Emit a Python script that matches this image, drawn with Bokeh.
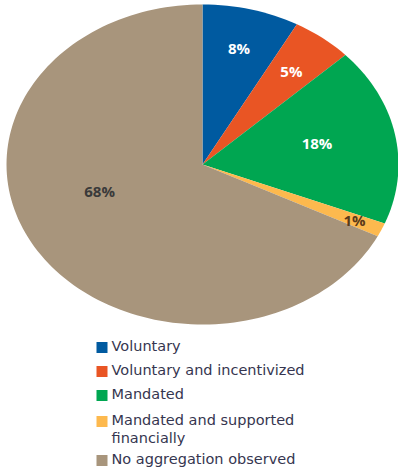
import math
from bokeh.plotting import figure
from bokeh.models import Range1d
from bokeh.core.properties import value
from bokeh.embed import file_html
from bokeh.resources import INLINE

categories = ["Voluntary", "Voluntary and incentivized", "Mandated",
              "Mandated and supported\nfinancially", "No aggregation observed"]
shares = [8, 5, 18, 1.4, 67.6]
pct_labels = ["8%", "5%", "18%", "1%", "68%"]
colors = ["#005aa0", "#e95524", "#00a651", "#fdb94e", "#a8957c"]
label_colors = ["#ffffff", "#ffffff", "#ffffff", "#5a3a1a", "#3a3a3a"]

W, H = 398, 468
CX, CY, RX, RY = 202, 164, 196, 160  # pixel geometry of the pie

p = figure(width=W, height=H, output_backend="svg", toolbar_location=None,
           min_border=0, outline_line_color=None, background_fill_color="white",
           border_fill_color="white")
p.x_range = Range1d(-CX / RX, (W - CX) / RX)
p.y_range = Range1d(-(H - CY) / RY, CY / RY)
p.xaxis.visible = False
p.yaxis.visible = False
p.grid.visible = False

total = sum(shares)
xs, ys = [], []
start = 0.0
mids = []
for s in shares:
    a0 = start / total * 2 * math.pi
    a1 = (start + s) / total * 2 * math.pi
    n = max(8, int(200 * s / total))
    px = [0.0]
    py = [0.0]
    for i in range(n + 1):
        t = a0 + (a1 - a0) * i / n
        px.append(math.sin(t))
        py.append(math.cos(t))
    xs.append(px)
    ys.append(py)
    mids.append((a0 + a1) / 2)
    start += s

p.patches(xs=xs, ys=ys, fill_color=colors, line_color=None)

# percentage labels
label_r = [0.75, 0.74, 0.6, 0.85, 0.55]
label_shift = [0, 0, -0.04, 0, 0.25]
lx = [label_r[i] * math.sin(mids[i] + label_shift[i]) for i in range(len(shares))]
ly = [label_r[i] * math.cos(mids[i] + label_shift[i]) for i in range(len(shares))]
p.text(x=lx, y=ly, text=pct_labels, text_color=label_colors,
       text_font=value("Open Sans"), text_font_style="bold", text_font_size="15px",
       text_align="center", text_baseline="middle")

# legend
row_px = [347, 371, 395, 421, 460]
sq_x = [(101.5 - CX) / RX] * len(categories)
sq_y = [(CY - r) / RY for r in row_px]
p.rect(x=sq_x, y=sq_y, width=11, height=11, width_units="screen", height_units="screen",
       fill_color=colors, line_color=None)
tx = [(111 - CX) / RX] * len(categories)
p.text(x=tx, y=[(CY - r + 9.5) / RY for r in row_px], text=categories,
       text_color="#363650", text_font=value("DejaVu Sans"), text_font_size="14.5px",
       text_align="left", text_baseline="top", text_line_height=1.1)

open("out.html", "w").write(file_html(p, INLINE))
